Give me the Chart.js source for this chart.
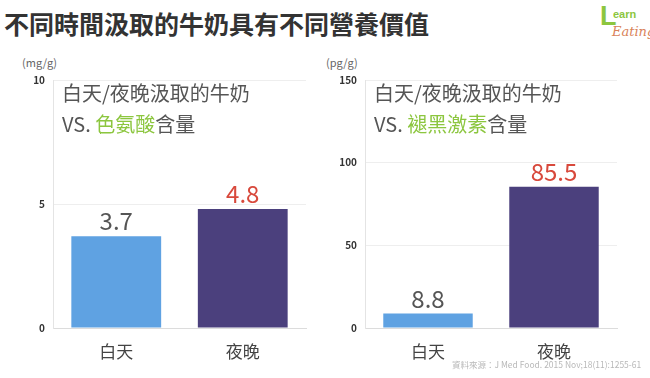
<!DOCTYPE html>
<html>
<head>
<meta charset="utf-8">
<script src="https://cdn.jsdelivr.net/npm/chart.js@4"></script>
<style>
  body { margin: 0; background: #fff; font-family: "Noto Sans CJK TC", sans-serif; }
  #page { position: relative; width: 650px; height: 378px; overflow: hidden; }
  .abs { position: absolute; white-space: nowrap; }
  #title { left: 4px; top: 5px; font-size: 25px; font-weight: bold; color: #333; line-height: 36px; }
  .unit { font-size: 11px; color: #666; top: 54px; }
  #src { left: 452px; top: 358px; font-size: 8.5px; color: #b8b8b8; }
  #logo { left: 598px; top: 4px; width: 52px; height: 40px; }
</style>
</head>
<body>
<div id="page">
  <div id="title" class="abs">不同時間汲取的牛奶具有不同營養價值</div>
  <div id="logo" class="abs">
    <span class="abs" style="left:2px;top:-3px;font:bold 27px 'Liberation Sans';color:#8cc63f;">L</span>
    <span class="abs" style="left:15px;top:4px;font:bold 11px 'Liberation Sans';color:#8cc63f;">earn</span>
    <span class="abs" style="left:14px;top:20px;font:italic 13px 'DejaVu Serif';color:#d9835a;">Eating</span>
  </div>
  <div class="abs unit" style="left:22px;">(mg/g)</div>
  <div class="abs unit" style="left:326px;">(pg/g)</div>
  <canvas id="c1" class="abs" style="left:0;top:0;"></canvas>
  <canvas id="c2" class="abs" style="left:325px;top:0;"></canvas>
  <div id="src" class="abs">資料來源：J Med Food. 2015 Nov;18(11):1255-61</div>
</div>
<script>
const categories = ['白天', '夜晚'];
const tryptophan = [3.7, 4.8];
const melatonin = [8.8, 85.5];
const barColors = ['#5fa2e2', '#4b407d'];
const labelColors = ['#555555', '#d8493c'];

const FONT = '"Noto Sans CJK TC", sans-serif';

const valueLabels = {
  id: 'valueLabels',
  afterDatasetsDraw(chart) {
    const ctx = chart.ctx;
    const meta = chart.getDatasetMeta(0);
    ctx.save();
    ctx.font = '24px ' + FONT;
    ctx.textAlign = 'center';
    ctx.textBaseline = 'bottom';
    meta.data.forEach((bar, i) => {
      ctx.fillStyle = labelColors[i];
      ctx.fillText(String(chart.data.datasets[0].data[i]), bar.x, bar.y - 3);
    });
    ctx.restore();
  }
};

const innerTitle = {
  id: 'innerTitle',
  afterDraw(chart, args, opts) {
    const ctx = chart.ctx;
    const x0 = chart.chartArea.left + 9;
    ctx.save();
    ctx.font = '20px ' + FONT;
    ctx.textBaseline = 'middle';
    ctx.fillStyle = '#555';
    ctx.fillText('白天/夜晚汲取的牛奶', x0, 93);
    let x = x0;
    opts.parts.forEach(p => {
      ctx.fillStyle = p[1];
      ctx.fillText(p[0], x, 124);
      x += ctx.measureText(p[0]).width;
    });
    ctx.restore();
  }
};

function makeChart(id, width, values, max, step, axisWidth, rightPad, parts) {
  const cv = document.getElementById(id);
  cv.width = width;
  cv.height = 378;
  cv.style.width = width + 'px';
  cv.style.height = '378px';
  return new Chart(cv, {
    type: 'bar',
    data: {
      labels: categories,
      datasets: [{
        data: values,
        backgroundColor: barColors,
        categoryPercentage: 1,
        barPercentage: 0.71
      }]
    },
    options: {
      responsive: false,
      animation: false,
      layout: { padding: { left: 0, top: 80, right: rightPad, bottom: 0 } },
      plugins: {
        legend: { display: false },
        tooltip: { enabled: false },
        innerTitle: { parts: parts }
      },
      scales: {
        x: {
          grid: { display: false },
          border: { display: true, color: '#dcdcdc' },
          ticks: { color: '#444', font: { family: FONT, size: 17 }, padding: 5 },
          afterFit(scale) { scale.height = 50; }
        },
        y: {
          min: 0,
          max: max,
          grid: { color: '#eeeeee', drawTicks: false },
          border: { display: true, color: '#e4e4e4' },
          ticks: { stepSize: step, color: '#333', font: { family: FONT, size: 10, weight: 'bold' }, padding: 8 },
          afterFit(scale) { scale.width = axisWidth; }
        }
      }
    },
    plugins: [valueLabels, innerTitle]
  });
}

makeChart('c1', 325, tryptophan, 10, 5, 53, 19,
  [['VS. ', '#555'], ['色氨酸', '#8cc63f'], ['含量', '#555']]);
makeChart('c2', 325, melatonin, 150, 50, 40, 33,
  [['VS. ', '#555'], ['褪黑激素', '#8cc63f'], ['含量', '#555']]);
</script>
</body>
</html>
